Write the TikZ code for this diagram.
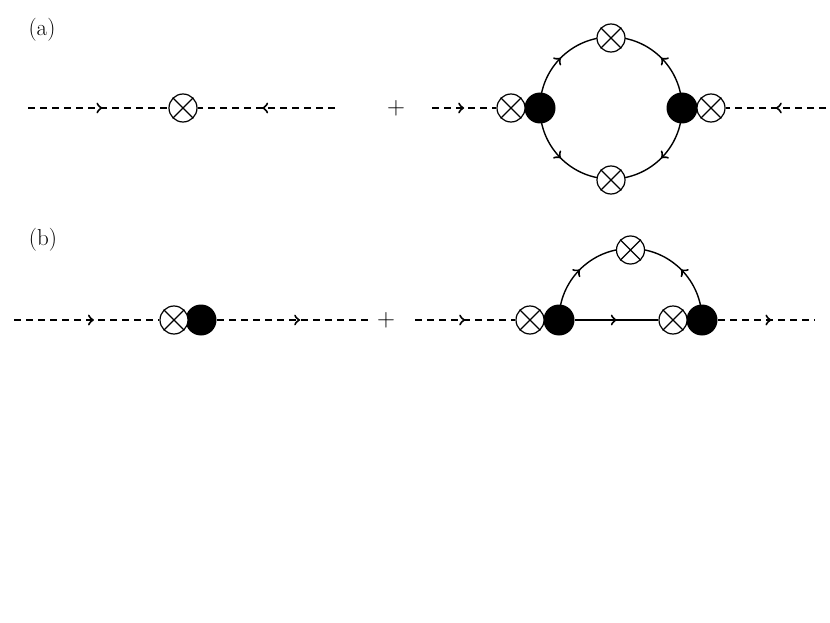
\documentclass[tikz,border=0pt]{standalone}
\usetikzlibrary{decorations.markings}
\begin{document}
\begin{tikzpicture}[x=1pt,y=-1pt,line width=1.4pt,
 ocirc/.style={draw,fill=white,circle,minimum size=28pt,inner sep=0pt,line width=1.2pt},
 bd/.style={fill=black,circle,minimum size=31pt,inner sep=0pt},
 sc/.style={dash pattern=on 7pt off 5pt},
 arr/.style={postaction={decorate,decoration={markings,mark=at position #1 with {\arrow[line width=1pt,scale=2]{>}}}}},
 lbl/.style={font=\fontsize{23}{27}\selectfont}]
\useasboundingbox (0,0) rectangle (830,623);
\node[lbl] (la) at (42,30) {(a)};
\node[lbl] (lb) at (43,240) {(b)};
% (a) left
\coordinate (a1) at (28,108); \coordinate (a2) at (335,108);
\node[ocirc] (x1) at (183,108) {};
\draw[sc,arr=0.53] (a1) -- (x1);
\draw[sc,arr=0.53] (a2) -- (x1);
\node[lbl] (p1) at (396,108) {$+$};
% (a) right
\coordinate (a3) at (432,108); \coordinate (a4) at (826,108);
\draw (611,108) circle (71);
\node[ocirc] (t) at (611,38) {}; \node[ocirc] (bt) at (611,180) {};
\node[bd] (b1) at (540,108) {}; \node[bd] (b2) at (682,108) {};
\node[ocirc] (x2) at (511,108) {}; \node[ocirc] (x3) at (711,108) {};
\path[arr=0.5] (540,108) arc (180:270:71);
\path[arr=0.5] (682,108) arc (0:-90:71);
\path[arr=0.5] (540,108) arc (180:90:71);
\path[arr=0.5] (682,108) arc (0:90:71);
\draw[sc,arr=0.5] (a3) -- (x2);
\draw[sc,arr=0.5] (a4) -- (x3);
% (b) left
\coordinate (c1) at (14,320); \coordinate (c2) at (368,320);
\node[bd] (b3) at (201,320) {}; \node[ocirc] (x4) at (174,320) {};
\draw[sc,arr=0.55] (c1) -- (x4);
\draw[sc,arr=0.55] (b3) -- (c2);
\node[lbl] (p2) at (386,320) {$+$};
% (b) right
\coordinate (c3) at (415,320); \coordinate (c4) at (815,320);
\draw (559,320) arc (180:360:71.5);
\path[arr=0.5] (559,320) arc (180:270:71.5);
\path[arr=0.5] (702,320) arc (0:-90:71.5);
\node[ocirc] (t2) at (630.5,250) {};
\node[bd] (b4) at (559,320) {}; \node[bd] (b5) at (702,320) {};
\node[ocirc] (x5) at (530,320) {}; \node[ocirc] (x6) at (673,320) {};
\draw[arr=0.5] (b4) -- (x6);
\draw[sc,arr=0.5] (c3) -- (x5);
\draw[sc,arr=0.55] (b5) -- (c4);
\foreach \n in {x1,t,bt,x2,x3,x4,t2,x5,x6}{
 \draw[line width=1.2pt] (\n.45) -- (\n.225) (\n.135) -- (\n.315);
}
\end{tikzpicture}
\end{document}
